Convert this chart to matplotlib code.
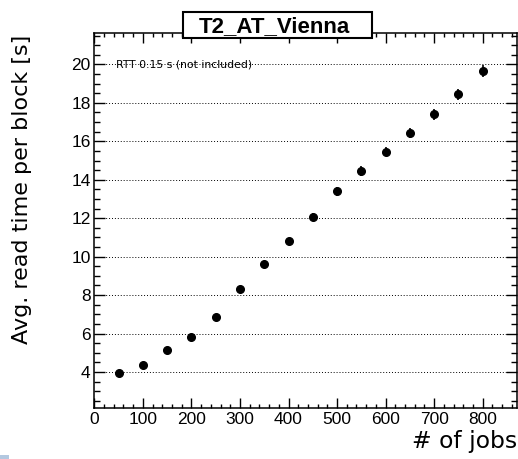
import matplotlib.pyplot as plt
from matplotlib.patches import Rectangle
from matplotlib.ticker import MultipleLocator

plt.rcParams['font.family'] = ['Liberation Sans', 'DejaVu Sans']

# jobs vs. average read time per block
n_jobs = [50, 100, 150, 200, 250, 300, 350, 400, 450, 500, 550, 600, 650, 700, 750, 800]
read_time = [3.97, 4.35, 5.15, 5.8, 6.85, 8.3, 9.62, 10.8, 12.07, 13.4, 14.45, 15.47,
             16.45, 17.4, 18.45, 19.65]
read_err = [0.12, 0.12, 0.13, 0.13, 0.15, 0.15, 0.17, 0.18, 0.2, 0.22, 0.24, 0.24,
            0.26, 0.27, 0.28, 0.32]

W, H = 518, 459
fig = plt.figure(figsize=(W / 100, H / 100), dpi=100)
ax = fig.add_axes([94.3 / W, 1 - 407.7 / H, (516.7 - 94.3) / W, (407.7 - 33.3) / H])

ax.errorbar(n_jobs, read_time, yerr=read_err, fmt='o', color='black', ms=5.5,
            elinewidth=1.2, capsize=0, zorder=3)

ax.set_xlim(0, 870)
ax.set_ylim(2.14, 21.62)
ax.xaxis.set_major_locator(MultipleLocator(100))
ax.xaxis.set_minor_locator(MultipleLocator(20))
ax.yaxis.set_major_locator(MultipleLocator(2))
ax.yaxis.set_minor_locator(MultipleLocator(0.5))
ax.set_yticks([4, 6, 8, 10, 12, 14, 16, 18, 20])
ax.set_xticks(range(0, 900, 100))
ax.tick_params(which='both', direction='in', top=True, right=True, labelsize=12.5,
               width=1, color='black')
ax.tick_params(axis='x', which='major', length=7.2, pad=3)
ax.tick_params(axis='x', which='minor', length=3.2)
ax.tick_params(axis='y', which='major', length=8, pad=2.6)
ax.tick_params(axis='y', which='minor', length=4.3)
ax.grid(axis='y', which='major', linestyle=(0, (1, 2)), color='black', linewidth=0.7)
ax.set_axisbelow(True)
for s in ax.spines.values():
    s.set_linewidth(1.1)

ax.text(45, 20, 'RTT 0.15 s (not included)', fontsize=7.8, va='center', ha='left',
        family='DejaVu Sans', zorder=2)

fig.text(22 / W, 1 - 189 / H, 'Avg. read time per block [s]', rotation=90,
         ha='center', va='center', fontsize=16, family='DejaVu Sans')
fig.text(516.7 / W, 1 - 448 / H, '# of jobs', ha='right', va='baseline', fontsize=16.9,
         family='DejaVu Sans')

# title box
fig.patches.append(Rectangle((183 / W, 1 - 38 / H), 189 / W, 26 / H, transform=fig.transFigure,
                             facecolor='white', edgecolor='black', linewidth=1.5, zorder=4))
fig.text(274 / W, 1 - 31.7 / H, 'T2_AT_Vienna', ha='center', va='baseline', fontsize=16,
         fontweight='bold', zorder=5)

fig.patches.append(Rectangle((0, 0), 9 / W, 4 / H, transform=fig.transFigure,
                             facecolor='#b3c8e0', edgecolor='none'))

fig.savefig('out.png', dpi=100)
